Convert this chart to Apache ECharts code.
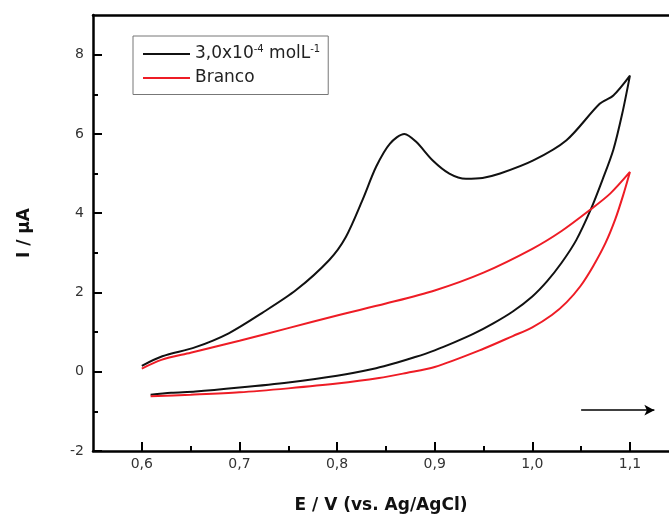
<!DOCTYPE html>
<html>
<head>
<meta charset="utf-8">
<script src="https://cdn.jsdelivr.net/npm/echarts@6/dist/echarts.min.js"></script>
<style>
  html, body { margin: 0; padding: 0; background: #fff; }
  #chart { width: 669px; height: 519px; }
</style>
</head>
<body>
<div id="chart"></div>
<script>
// potencial (V) e corrente (uA) - varredura de ida e volta
const blackX = [0.600, 0.621, 0.655, 0.689, 0.723, 0.758, 0.792, 0.809, 0.826, 0.840, 0.854, 0.869,
  0.881, 0.898, 0.915, 0.932, 0.949, 0.967, 1.001, 1.035, 1.069, 1.083, 1.100,
  1.092, 1.083, 1.072, 1.060, 1.045, 1.030, 1.015, 1.000, 0.980, 0.960, 0.940, 0.920, 0.900, 0.880,
  0.860, 0.840, 0.800, 0.750, 0.700, 0.655, 0.630, 0.609]
const blackY = [0.15, 0.39, 0.62, 0.97, 1.48, 2.06, 2.82, 3.40, 4.33, 5.17, 5.75, 6.00,
  5.80, 5.33, 5.00, 4.87, 4.89, 5.00, 5.33, 5.84, 6.76, 6.97, 7.47,
  6.50, 5.60, 4.85, 4.10, 3.32, 2.75, 2.28, 1.90, 1.52, 1.22, 0.96, 0.74, 0.54, 0.37,
  0.22, 0.09, -0.10, -0.27, -0.40, -0.50, -0.53, -0.58]

const redX = [0.600, 0.620, 0.650, 0.700, 0.750, 0.800, 0.850, 0.900, 0.950, 1.000, 1.030, 1.060, 1.080, 1.100,
  1.093, 1.085, 1.075, 1.062, 1.049, 1.035, 1.020, 1.000, 0.980, 0.950, 0.900, 0.871, 0.843, 0.800, 0.750, 0.700, 0.650, 0.609]
const redY = [0.08, 0.30, 0.48, 0.78, 1.10, 1.42, 1.72, 2.05, 2.50, 3.10, 3.55, 4.10, 4.50, 5.04,
  4.45, 3.85, 3.25, 2.65, 2.15, 1.75, 1.43, 1.12, 0.90, 0.58, 0.12, -0.03, -0.16, -0.30, -0.42, -0.52, -0.58, -0.62]

const xTicks = [0.6, 0.7, 0.8, 0.9, 1.0, 1.1]
const xMinor = [0.65, 0.75, 0.85, 0.95, 1.05]
const yTicks = [-2, 0, 2, 4, 6, 8]
const yMinor = [-1, 1, 3, 5, 7]

// seta indicando o sentido da varredura
const arrowX = [1.05, 1.125]
const arrowY = [-0.97, -0.97]

const names = ['3,0x10-4 molL-1', 'Branco']

const zip = (xs, ys) => xs.map((x, i) => [x, ys[i]])

const myChart = echarts.init(document.getElementById('chart'))

const font = 'DejaVu Sans'
const axisCommon = {
    type: 'value',
    min: 0.55,
    max: 1.14,
    splitLine: { show: false }
}
const yCommon = {
    type: 'value',
    min: -2,
    max: 9,
    splitLine: { show: false }
}

const option = {
    animation: false,
    grid: { left: 93, right: 0, top: 15, bottom: 68 },
    legend: {
        orient: 'vertical',
        left: 133,
        top: 36,
        padding: [8, 8, 8, 10],
        itemWidth: 47,
        itemHeight: 2,
        itemGap: 7,
        borderColor: '#777',
        borderWidth: 1,
        data: names.map(n => ({ name: n, icon: 'rect' })),
        formatter: name => name === names[0] ? '3,0x10{sup|-4} molL{sup|-1}' : name,
        textStyle: {
            fontFamily: font,
            fontSize: 17,
            color: '#222',
            rich: {
                sup: { fontSize: 10, fontFamily: font, color: '#222', padding: [0, 0, 10, 0] }
            }
        }
    },
    xAxis: [
        Object.assign({}, axisCommon, {
            position: 'bottom',
            name: 'E / V (vs. Ag/AgCl)',
            nameLocation: 'middle',
            nameGap: 46,
            nameTextStyle: { fontFamily: font, fontWeight: 'bold', fontSize: 17, color: '#111' },
            axisLine: { onZero: false, lineStyle: { color: '#000', width: 2.5 } },
            axisTick: { inside: true, length: 9, customValues: xTicks, lineStyle: { color: '#000', width: 2 } },
            axisLabel: {
                customValues: xTicks,
                formatter: v => v.toFixed(1).replace('.', ','),
                fontFamily: font, fontSize: 14, color: '#333', margin: 6
            }
        }),
        Object.assign({}, axisCommon, {
            position: 'bottom',
            axisLine: { show: false, onZero: false },
            axisTick: { inside: true, length: 5, customValues: xMinor, lineStyle: { color: '#000', width: 2 } },
            axisLabel: { show: false }
        }),
        Object.assign({}, axisCommon, {
            position: 'top',
            axisLine: { onZero: false, lineStyle: { color: '#000', width: 2.5 } },
            axisTick: { show: false },
            axisLabel: { show: false }
        })
    ],
    yAxis: [
        Object.assign({}, yCommon, {
            position: 'left',
            name: 'I / µA',
            nameLocation: 'middle',
            nameGap: 60,
            nameRotate: 90,
            nameTextStyle: { fontFamily: font, fontWeight: 'bold', fontSize: 17, color: '#111' },
            axisLine: { show: true, onZero: false, lineStyle: { color: '#000', width: 2.5 } },
            axisTick: { show: true, inside: true, length: 9, customValues: yTicks, lineStyle: { color: '#000', width: 2 } },
            axisLabel: { customValues: yTicks, fontFamily: font, fontSize: 14, color: '#333', margin: 9 }
        }),
        Object.assign({}, yCommon, {
            position: 'left',
            axisLine: { show: false, onZero: false },
            axisTick: { show: true, inside: true, length: 5, customValues: yMinor, lineStyle: { color: '#000', width: 2 } },
            axisLabel: { show: false }
        })
    ],
    series: [
        {
            name: names[0],
            type: 'line',
            data: zip(blackX, blackY),
            symbol: 'none',
            smooth: 0.3,
            color: '#111',
            lineStyle: { color: '#111', width: 2 },
            markLine: {
                silent: true,
                symbol: ['none', 'arrow'],
                symbolSize: [8, 10],
                label: { show: false },
                lineStyle: { color: '#000', width: 1.5, type: 'solid' },
                data: [[{ coord: [arrowX[0], arrowY[0]] }, { coord: [arrowX[1], arrowY[1]] }]]
            }
        },
        {
            name: names[1],
            type: 'line',
            data: zip(redX, redY),
            symbol: 'none',
            smooth: 0.3,
            color: '#ee1c25',
            lineStyle: { color: '#ee1c25', width: 2 }
        }
    ]
}

myChart.setOption(option)
</script>
</body>
</html>
